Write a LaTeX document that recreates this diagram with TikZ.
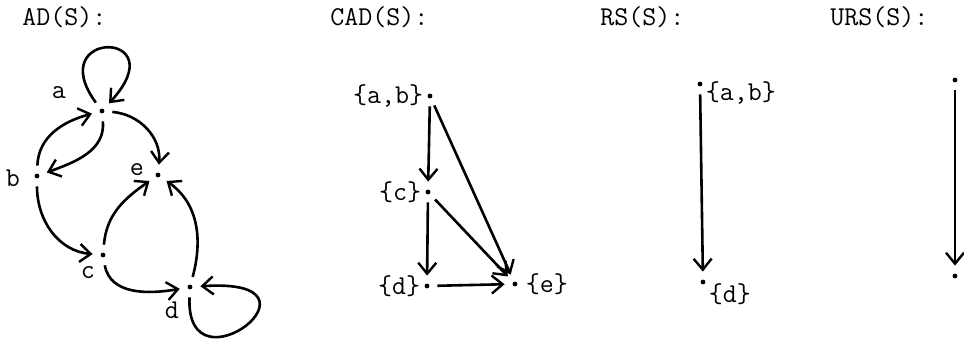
\documentclass[tikz,border=0pt]{standalone}
\usepackage{fontspec}
\usetikzlibrary{positioning,arrows.meta}

\begin{document}
\begin{tikzpicture}[
  x=0.5pt, y=0.5pt,
  every node/.style={font=\ttfamily\fontsize{13.6}{16}\selectfont},
  pt/.style={circle, fill, inner sep=0pt, minimum size=2.4pt, outer sep=4pt},
  lbl/.style={inner sep=1pt},
  ttl/.style={anchor=base west, inner sep=0pt},
  ar/.style={-{Straight Barb[length=5.5pt,width=9pt,line width=1.2pt]}, line width=1.3pt}
]
\useasboundingbox (0,0) rectangle (964,-338);

% titles
\node[ttl] (tad)  at (22,-25)  {AD(S):};
\node[ttl] (tcad) at (330,-25) {CAD(S):};
\node[ttl] (trs)  at (600,-25) {RS(S):};
\node[ttl] (turs) at (830,-25) {URS(S):};

% AD(S)
\node[pt] (a) at (102,-111) {};
\node[pt] (b) at (37,-176)  {};
\node[pt] (e) at (158,-175) {};
\node[pt] (c) at (103,-255) {};
\node[pt] (d) at (190,-287) {};
\node[lbl] (la) at (59,-93)  {a};
\node[lbl] (lb) at (13,-178) {b};
\node[lbl] (le) at (137,-170) {e};
\node[lbl] (lc) at (88,-273) {c};
\node[lbl] (ld) at (172,-310) {d};

\draw[ar] (a) .. controls +(-60,82) and +(75,82) .. (a);
\draw[ar] (b) to[out=88,in=195] (a);
\draw[ar] (a) to[out=-85,in=20] (b);
\draw[ar] (a) to[out=-5,in=85] (e);
\draw[ar] (b) to[out=-90,in=175] (c);
\draw[ar] (c) to[out=85,in=215] (e);
\draw[ar] (c) to[out=-80,in=190] (d);
\draw[ar] (d) to[out=75,in=-35] (e);
\draw[ar] (d) .. controls +(-5,-110) and +(150,10) .. (d);

% CAD(S)
\node[pt] (cab) at (430,-96)  {};
\node[pt] (cc)  at (428,-192) {};
\node[pt] (cd)  at (427,-286) {};
\node[pt] (ce)  at (515,-284) {};
\node[lbl, left=-3pt of cab] (lcab) {\{a,b\}};
\node[lbl, left=-3pt of cc]  (lcc)  {\{c\}};
\node[lbl, left=-3pt of cd]  (lcd)  {\{d\}};
\node[lbl, right=-1pt of ce] (lce)  {\{e\}};

\draw[ar] (cab) -- (cc);
\draw[ar] (cab) -- (ce);
\draw[ar] (cc) -- (cd);
\draw[ar] (cc) -- (ce);
\draw[ar] (cd) -- (ce);

% RS(S)
\node[pt] (r1) at (700,-84)  {};
\node[pt] (r2) at (703,-282) {};
\node[lbl, below right=-6pt and -2pt of r1] (lr1) {\{a,b\}};
\node[lbl, below right=-4pt and -2pt of r2] (lr2) {\{d\}};
\draw[ar] (r1) -- (r2);

% URS(S)
\node[pt] (u1) at (955,-80)  {};
\node[pt] (u2) at (955,-276) {};
\draw[ar] (u1) -- (u2);

\end{tikzpicture}
\end{document}
